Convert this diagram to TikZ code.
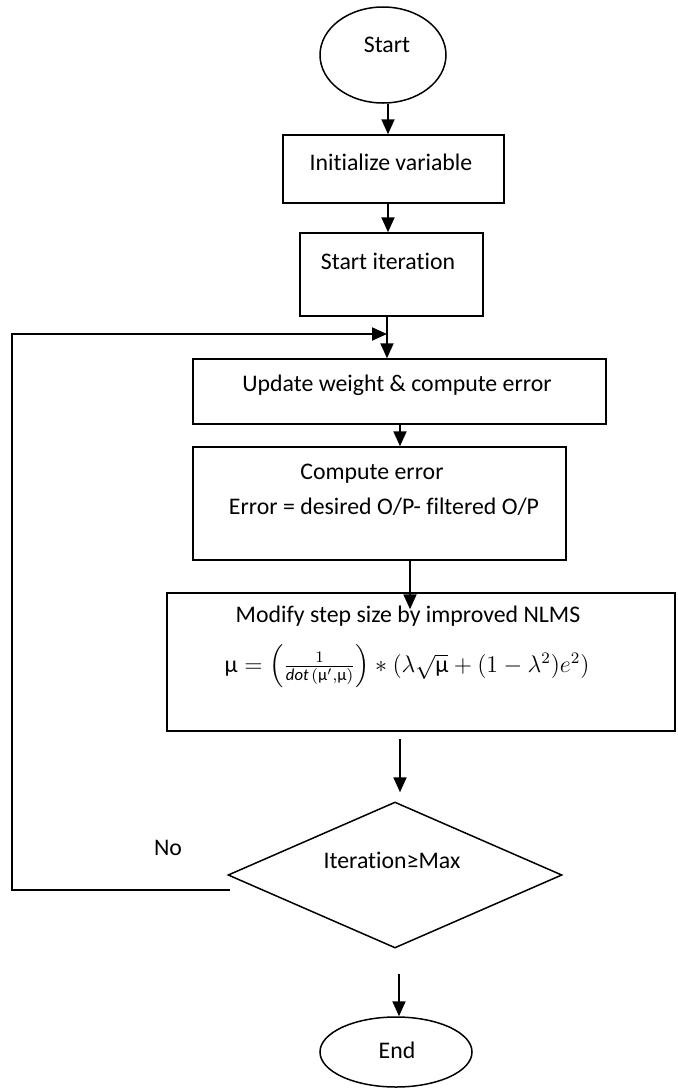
\documentclass[tikz,border=0pt]{standalone}
\usepackage{amsmath}
\usepackage{fontspec}
\setmainfont{Carlito}[Ligatures={NoCommon,NoContextual}]
\usetikzlibrary{shapes.geometric,arrows.meta}

\tikzset{
  shapebox/.style={draw, line width=0.75pt, rectangle, inner sep=0pt},
  oval/.style={draw, line width=0.75pt, ellipse, inner sep=0pt},
  choice/.style={draw, line width=0.75pt, diamond, inner sep=0pt},
  txt/.style={inner sep=0pt, font=\fontsize{11.9}{14}\selectfont},
  arr/.style={line width=1pt, -{Triangle[width=6.5pt,length=7.5pt]}}
}

\begin{document}
\begin{tikzpicture}[x=0.5pt, y=-0.5pt]
\useasboundingbox (0,0) rectangle (677,1088);

% shapes of the flow chart
\node[oval, minimum width=63pt, minimum height=48pt] (start) at (383,55) {};
\node[shapebox, minimum width=110.5pt, minimum height=34pt] (init) at (393.5,169) {};
\node[shapebox, minimum width=91.5pt, minimum height=41.5pt] (iter) at (391.5,274.5) {};
\node[shapebox, minimum width=206.5pt, minimum height=32.5pt] (upd) at (399.5,391.5) {};
\node[shapebox, minimum width=186.5pt, minimum height=56.5pt] (comp) at (379.5,503.5) {};
\node[shapebox, minimum width=254pt, minimum height=69pt] (mod) at (421,662) {};
\node[choice, minimum width=167pt, minimum height=73pt] (dec) at (395,875) {};
\node[oval, minimum width=76pt, minimum height=35pt] (end) at (396,1052) {};

% texts
\node[txt] (startT) at (387,45) {Start};
\node[txt] (initT) at (391,162) {Initialize variable};
\node[txt] (iterT) at (388,261) {Start iteration};
\node[txt] (updT) at (397,385) {Update weight \& compute error};
\node[txt] (compT1) at (372,474) {Compute error};
\node[txt] (compT2) at (384,507) {Error = desired O/P- filtered O/P};
\node[txt] (modT1) at (408,616) {Modify step size by improved NLMS};
\node[txt] (modT2) at (407,666) {$\text{μ} = \left(\frac{1}{\mathit{dot}\,(\text{μ}',\text{μ})}\right) * (\lambda\sqrt{\text{μ}} + (1-\lambda^{2})e^{2})$};
\node[txt] (decT) at (392,860) {Iteration≥Max};
\node[txt] (noT) at (168,848) {No};
\node[txt] (endT) at (397,1050) {End};

% connector columns and loop corners
\coordinate (ax1) at (388,0);
\coordinate (ax3) at (387,0);
\coordinate (ax4) at (400,0);
\coordinate (ax5) at (410,0);
\coordinate (ax6) at (400,0);
\coordinate (ax7) at (399,0);
\coordinate (noEnd) at (230,890);
\coordinate (loopL) at (12,334);
\coordinate (join) at (387,334);

% connectors
\draw[arr] (start.south -| ax1) -- (init.north -| ax1);
\draw[arr] (init.south -| ax1) -- (iter.north -| ax1);
\draw[arr] (iter.south -| ax3) -- (upd.north -| ax3);
\draw[arr] (noEnd) -| (loopL) -- (join);
\draw[arr] (upd.south -| ax4) -- (comp.north -| ax4);
\draw[arr] (comp.south -| ax5) -- ([yshift=-8.5pt]mod.north -| ax5);
\draw[arr, shorten <=3.5pt, shorten >=4.5pt] (mod.south -| ax6) -- (dec.north -| ax6);
\draw[arr, shorten <=12.5pt] (dec.south -| ax7) -- (end.north -| ax7);
\end{tikzpicture}
\end{document}
